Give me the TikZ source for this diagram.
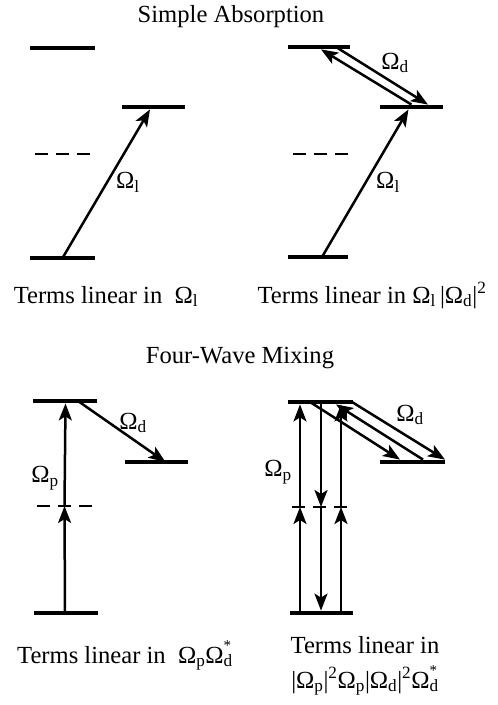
\documentclass[tikz,border=0pt]{standalone}
\usepackage{fontspec}
\setmainfont{Liberation Serif}
\usetikzlibrary{arrows.meta,positioning}
\tikzset{
  level/.style={rectangle,fill=black,inner sep=0pt,outer sep=0pt,minimum height=4.8pt},
  virtual/.style={rectangle,inner sep=0pt,outer sep=0pt,minimum height=0pt},
  dashline/.style={line width=2.6pt,dash pattern=on 13pt off 8pt},
  photon/.style={-{Stealth[length=17pt,width=13pt,inset=4pt]},line width=2.5pt},
  rabi/.style={inner sep=0pt},
  caption/.style={anchor=base,inner sep=0pt},
  heading/.style={anchor=base,inner sep=0pt}
}
\newcommand{\Rabi}[1]{Ω\textsubscript{#1}}
\newcommand{\Rabiconj}[1]{Ω\rlap{\raisebox{0.52em}{\fontsize{15}{15}\selectfont *}}\textsubscript{#1}}

\begin{document}
\begin{tikzpicture}[x=1pt,y=-1pt,font=\fontsize{24.6}{29}\selectfont]
  \useasboundingbox (0,0) rectangle (498,705);

  % simple absorption
  \node[heading] (absTitle) at (231,22) {Simple Absorption};

  \node[level,minimum width=65pt] (aTop) at (62.5,48) {};
  \node[level,minimum width=63pt] (aMid) at (153.5,107) {};
  \node[virtual,minimum width=55pt] (aVirt) at (62.5,154) {};
  \node[level,minimum width=65pt] (aGnd) at (62.5,258) {};
  \draw[dashline] (aVirt.west) -- (aVirt.east);
  \draw[photon] (aGnd.center) -- ([xshift=-3.5pt]aMid.south);
  \node[rabi] (aLaser) at (128,182) {\Rabi{l}};
  \node[caption] (aTerms) at (106,303) {Terms linear in~ \Rabi{l}};

  \node[level,minimum width=62pt] (bTop) at (319,47) {};
  \node[level,minimum width=63pt] (bMid) at (411.5,107) {};
  \node[virtual,minimum width=55pt] (bVirt) at (320,154) {};
  \node[level,minimum width=60pt] (bGnd) at (318,257) {};
  \draw[dashline] (bVirt.west) -- (bVirt.east);
  \draw[photon] ([xshift=4pt]bGnd.center) -- ([xshift=-3pt]bMid.south);
  \draw[photon] (bMid.north) -- ([xshift=2pt]bTop.south);
  \draw[photon] ([xshift=17pt]bTop.center) -- ([xshift=16.5pt]bMid.north);
  \node[rabi] (bLaser) at (388,182) {\Rabi{l}};
  \node[rabi] (bDrive) at (395,63) {\Rabi{d}};
  \node[caption] (bTerms) at (372,303) {Terms linear in \Rabi{l}\,|\Rabi{d}|\textsuperscript{2}};

  % four-wave mixing
  \node[heading] (fwmTitle) at (240,363) {Four-Wave Mixing};

  \node[level,minimum width=64pt] (cTop) at (65,401) {};
  \node[level,minimum width=63pt] (cMid) at (156.5,462) {};
  \node[virtual,minimum width=55pt] (cVirt) at (64.5,506) {};
  \node[level,minimum width=64pt] (cGnd) at (66,613) {};
  \draw[dashline] (cVirt.west) -- (cVirt.east);
  \draw[photon] ([xshift=-1pt]cGnd.center) -- (cVirt.center);
  \draw[photon] (cVirt.center) -- ([xshift=0.5pt]cTop.south);
  \draw[photon] ([xshift=13pt]cTop.center) -- ([xshift=9pt]cMid.center);
  \node[rabi] (cPump) at (45,478) {\Rabi{p}};
  \node[rabi] (cDrive) at (133,423) {\Rabi{d}};
  \node[caption] (cTerms) at (125,663) {Terms linear in~ \Rabi{p}\Rabiconj{d}};

  \node[level,minimum width=65pt] (dTop) at (320.5,402) {};
  \node[level,minimum width=65pt] (dMid) at (412.5,462) {};
  \node[virtual,minimum width=58pt] (dVirt) at (321,507) {};
  \node[level,minimum width=63pt] (dGnd) at (321.5,613) {};
  \draw[dashline] (dVirt.west) -- (dVirt.east);
  \draw[photon] ([xshift=-21.5pt]dGnd.center) -- ([xshift=-21pt]dVirt.center);
  \draw[photon] ([xshift=-21pt]dVirt.center) -- ([xshift=-20.5pt]dTop.south);
  \draw[photon] ([xshift=0.5pt]dTop.center) -- (dVirt.center);
  \draw[photon] (dVirt.center) -- ([xshift=-0.5pt]dGnd.north);
  \draw[photon] ([xshift=19.5pt]dGnd.center) -- ([xshift=20pt]dVirt.center);
  \draw[photon] ([xshift=20pt]dVirt.center) -- ([xshift=20.5pt]dTop.south);
  \draw[photon] ([xshift=-10.5pt]dTop.center) -- ([xshift=-12.5pt]dMid.north);
  \draw[photon] ([xshift=10.5pt]dMid.north) -- ([xshift=15.5pt]dTop.south);
  \draw[photon] ([xshift=31.5pt]dTop.center) -- ([xshift=32.5pt]dMid.north);
  \node[rabi] (dPump) at (278,472) {\Rabi{p}};
  \node[rabi] (dDrive) at (410,415) {\Rabi{d}};
  \node[caption] (dTerms) at (365,653) {Terms linear in};
  \node[caption] (dProduct) at (365,688) {|\Rabi{p}|\textsuperscript{2}\Rabi{p}|\Rabi{d}|\textsuperscript{2}\Rabiconj{d}};
\end{tikzpicture}
\end{document}
